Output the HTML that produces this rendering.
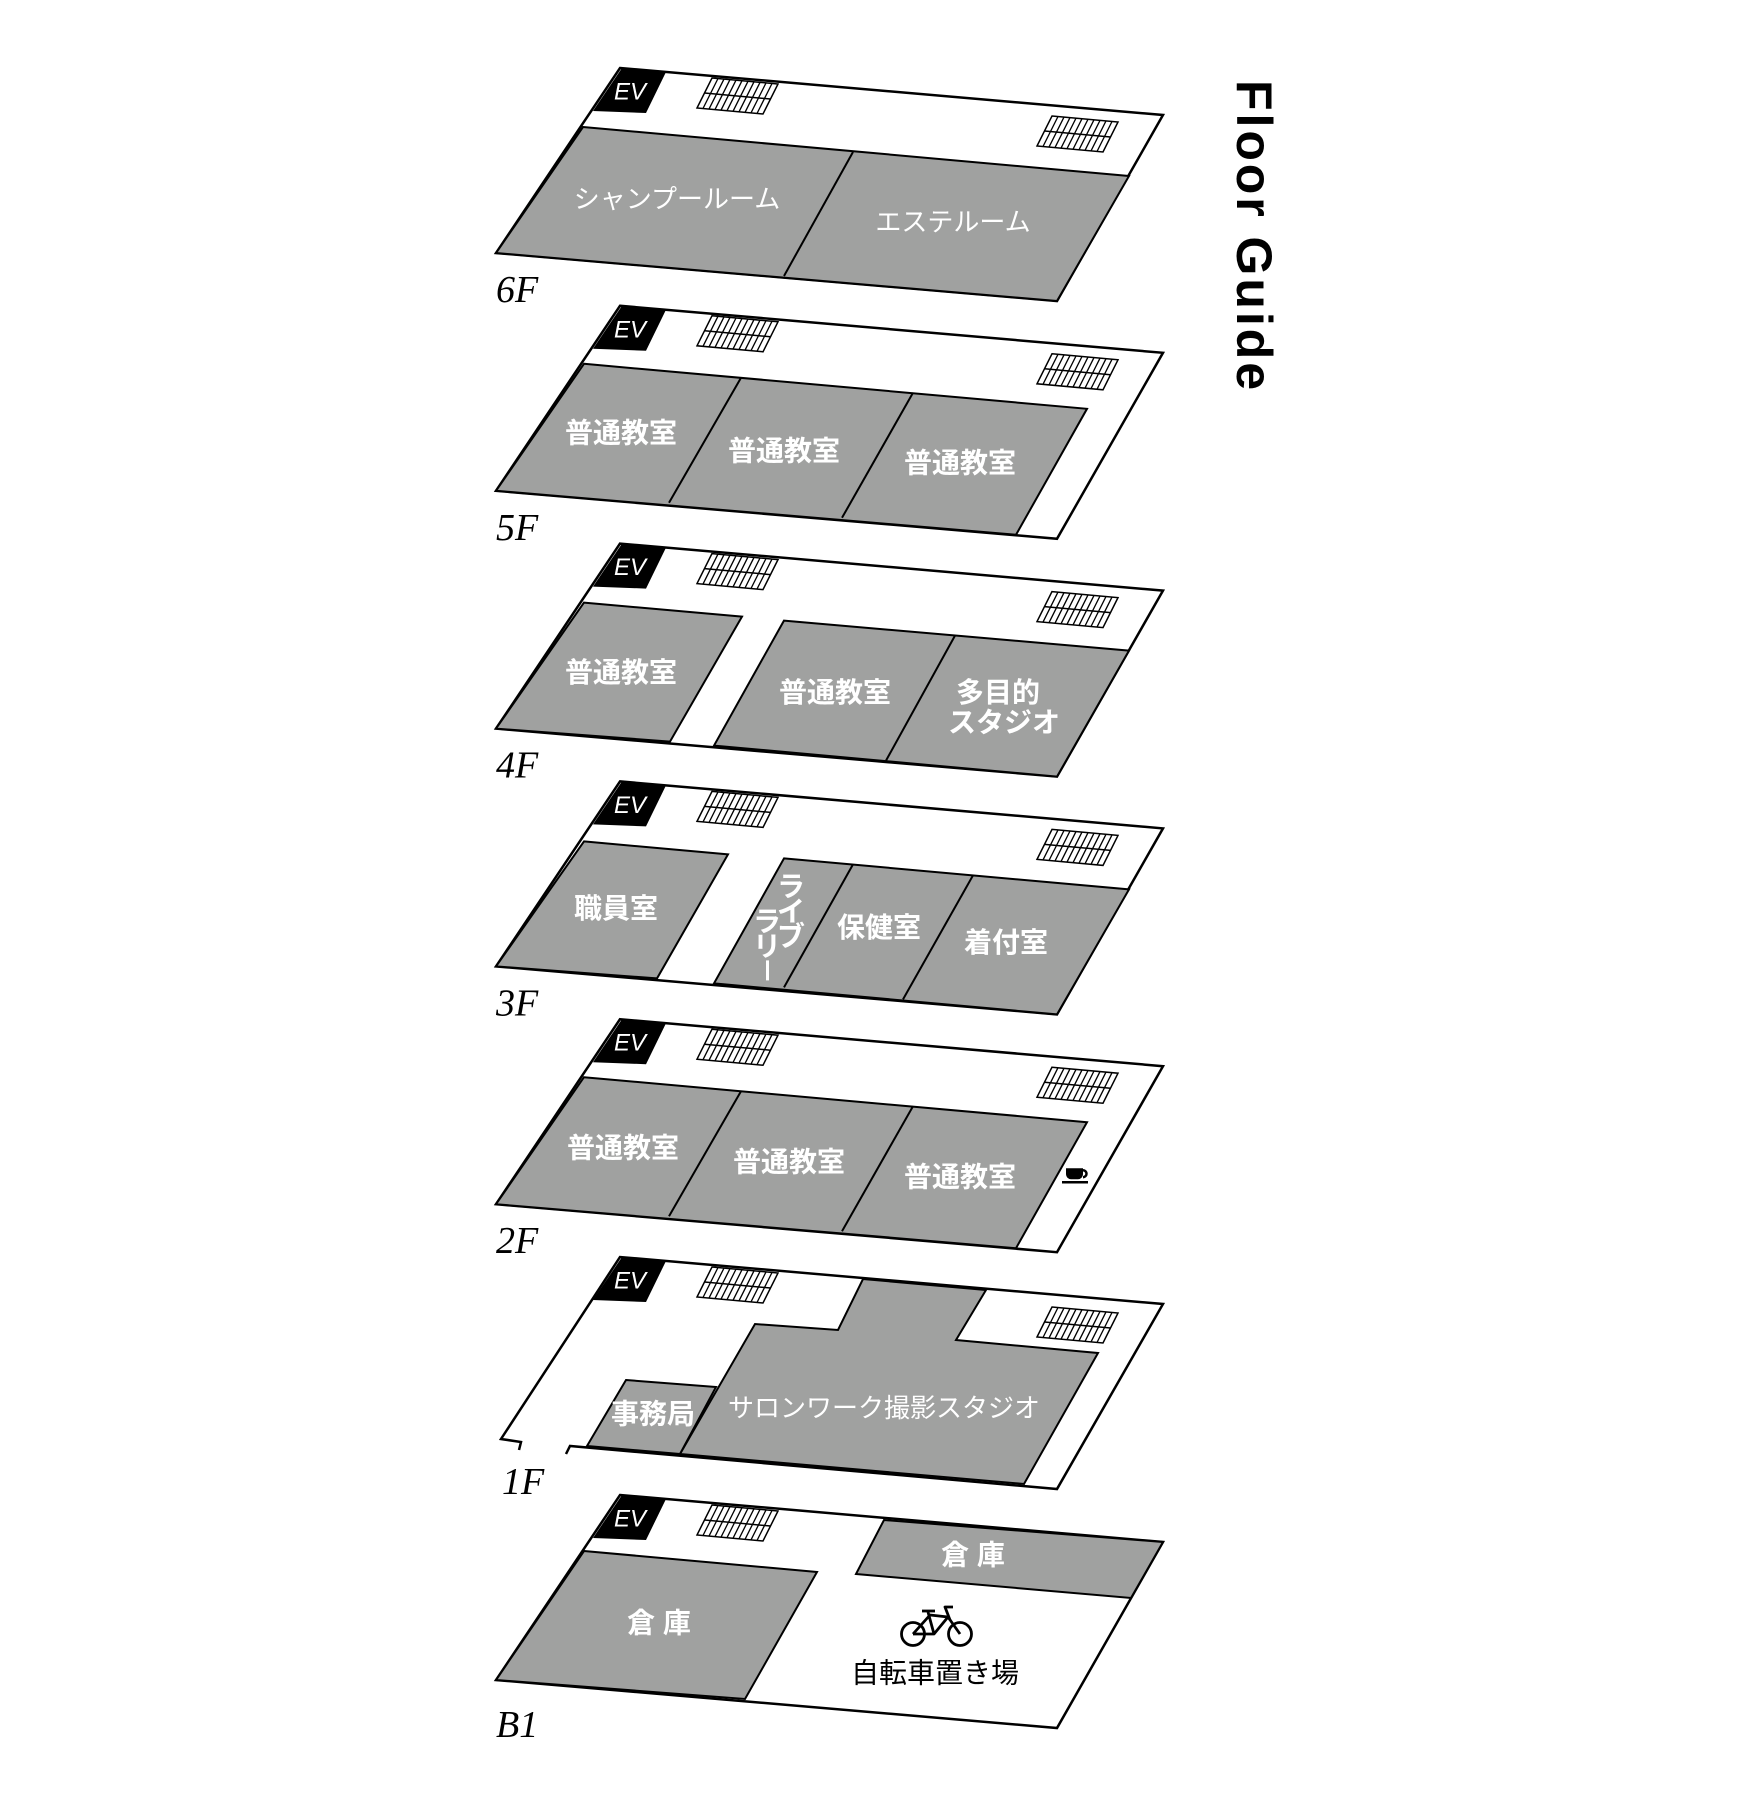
<!DOCTYPE html>
<html><head><meta charset="utf-8"><style>
html,body{margin:0;padding:0;background:#fff;}
svg{display:block;}
.o{fill:#fff;stroke:#000;stroke-width:2.5;stroke-linejoin:miter;}
.g{fill:#a0a1a0;stroke:#000;stroke-width:2;stroke-linejoin:miter;}
.d{stroke:#000;stroke-width:2;fill:none;}
.t{fill:#fff;font-family:"Liberation Sans","Noto Sans CJK JP",sans-serif;font-weight:bold;font-size:28px;text-anchor:middle;dominant-baseline:central;}
.tl{fill:#fff;font-family:"Liberation Sans","Noto Sans CJK JP",sans-serif;font-weight:normal;font-size:26px;text-anchor:middle;dominant-baseline:central;}
.fl{font-family:"Liberation Serif",serif;font-style:italic;font-size:38px;fill:#000;}
.ev{fill:#fff;font-family:"Liberation Sans",sans-serif;font-style:italic;font-size:24px;text-anchor:middle;dominant-baseline:central;}
</style></head><body>
<svg width="1754" height="1794" viewBox="0 0 1754 1794" xmlns="http://www.w3.org/2000/svg">
<defs>
<g id="st">
  <polygon points="0,0 66,6 51,36 -15,30" fill="#fff" stroke="#000" stroke-width="1.5"/>
  <line x1="-7.5" y1="15" x2="58.5" y2="21" stroke="#000" stroke-width="1.5"/>
  <g stroke="#000" stroke-width="1.3">
    <line x1="6" y1="0.5" x2="-9" y2="30.5"/><line x1="12" y1="1.1" x2="-3" y2="31.1"/>
    <line x1="18" y1="1.6" x2="3" y2="31.6"/><line x1="24" y1="2.2" x2="9" y2="32.2"/>
    <line x1="30" y1="2.7" x2="15" y2="32.7"/><line x1="36" y1="3.3" x2="21" y2="33.3"/>
    <line x1="42" y1="3.8" x2="27" y2="33.8"/><line x1="48" y1="4.4" x2="33" y2="34.4"/>
    <line x1="54" y1="4.9" x2="39" y2="34.9"/><line x1="60" y1="5.5" x2="45" y2="35.5"/>
  </g>
</g>
<g id="ev">
  <polygon points="622,68 666,72 646,113 593,111" fill="#000"/>
  <text x="630" y="92" class="ev">EV</text>
</g>
</defs>

<!-- 6F -->
<g transform="translate(0,0)">
  <polygon class="o" points="620,68 1163,115 1057,301 496,253"/>
  <polygon class="g" points="583,127 1129,176 1057,301 496,253"/>
  <line class="d" x1="853" y1="152" x2="784" y2="276"/>
  <use href="#ev"/>
  <use href="#st" x="712" y="78"/>
  <use href="#st" x="1052" y="116"/>
  <text class="tl" x="677" y="199">シャンプールーム</text>
  <text class="tl" x="953" y="222">エステルーム</text>
  <text class="fl" x="496" y="302">6F</text>
</g>

<!-- 5F -->
<g transform="translate(0,237.8)">
  <polygon class="o" points="620,68 1163,115 1057,301 496,253"/>
  <polygon class="g" points="584,126 1087,171 1016,297 496,253"/>
  <line class="d" x1="741" y1="140" x2="669" y2="265"/>
  <line class="d" x1="913" y1="155" x2="842" y2="280"/>
  <use href="#ev"/>
  <use href="#st" x="712" y="78"/>
  <use href="#st" x="1052" y="116"/>
  <text class="t" x="621" y="195">普通教室</text>
  <text class="t" x="784" y="213">普通教室</text>
  <text class="t" x="960" y="225">普通教室</text>
  <text class="fl" x="496" y="302">5F</text>
</g>

<!-- 4F -->
<g transform="translate(0,475.6)">
  <polygon class="o" points="620,68 1163,115 1057,301 496,253"/>
  <polygon class="g" points="584,127 742,141 670,266 496,253"/>
  <polygon class="g" points="784,145 1129,175 1057,301 714,270"/>
  <line class="d" x1="955" y1="160" x2="886" y2="285"/>
  <use href="#ev"/>
  <use href="#st" x="712" y="78"/>
  <use href="#st" x="1052" y="116"/>
  <text class="t" x="621" y="197">普通教室</text>
  <text class="t" x="835" y="217">普通教室</text>
  <text class="t" x="998" y="217">多目的</text>
  <text class="t" x="1004" y="247">スタジオ</text>
  <text class="fl" x="496" y="302">4F</text>
</g>

<!-- 3F -->
<g transform="translate(0,713.4)">
  <polygon class="o" points="620,68 1163,115 1057,301 496,253"/>
  <polygon class="g" points="584,128 728,141 657,265 496,253"/>
  <polygon class="g" points="784,145 1129,176 1057,301 714,270"/>
  <line class="d" x1="853" y1="151" x2="784" y2="274"/>
  <line class="d" x1="973" y1="162" x2="903" y2="286"/>
  <use href="#ev"/>
  <use href="#st" x="712" y="78"/>
  <use href="#st" x="1052" y="116"/>
  <text class="t" x="616" y="195">職員室</text>
  <text class="t" x="879" y="214">保健室</text>
  <text class="t" x="1006" y="229">着付室</text>
  <text class="t" x="791" y="173" font-size="23">ラ</text>
  <text class="t" x="791" y="198" font-size="23">イ</text>
  <text class="t" x="791" y="223" font-size="23">ブ</text>
  <text class="t" x="767" y="208" font-size="23">ラ</text>
  <text class="t" x="767" y="233" font-size="23">リ</text>
  <rect x="766" y="247" width="3" height="20" fill="#fff"/>
  <text class="fl" x="496" y="302">3F</text>
</g>

<!-- 2F -->
<g transform="translate(0,951.2)">
  <polygon class="o" points="620,68 1163,115 1057,301 496,253"/>
  <polygon class="g" points="584,126 1087,171 1016,297 496,253"/>
  <line class="d" x1="741" y1="140" x2="669" y2="265"/>
  <line class="d" x1="913" y1="155" x2="842" y2="280"/>
  <use href="#ev"/>
  <use href="#st" x="712" y="78"/>
  <use href="#st" x="1052" y="116"/>
  <text class="t" x="623" y="197">普通教室</text>
  <text class="t" x="789" y="211">普通教室</text>
  <text class="t" x="960" y="226">普通教室</text>
  <path d="M1066,217 h17 v6 a5,5 0 0 1 -5,5 h-7 a5,5 0 0 1 -5,-5 z" fill="#000"/>
  <path d="M1083,219 a3.5,3.5 0 0 1 0,7" fill="none" stroke="#000" stroke-width="2.5"/>
  <line x1="1062" y1="231" x2="1088" y2="231" stroke="#000" stroke-width="2.5"/>
  <text class="fl" x="496" y="302">2F</text>
</g>

<!-- 1F -->
<g transform="translate(0,1189)">
  <polygon fill="#fff" points="620,68 1163,115 1057,300 570,257 498,250"/>
  <polyline fill="none" stroke="#000" stroke-width="2.5" points="519,261 521,253 501,250 620,68 1163,115 1057,300 570,257 566,265"/>
  <polygon class="g" points="863,90 986,101 956,151 1098,164 1024,295 680,265 755,135 838,141"/>
  <polygon class="g" points="626,191 716,198 680,265 587,257"/>
  <use href="#ev"/>
  <use href="#st" x="712" y="78"/>
  <use href="#st" x="1052" y="118"/>
  <text class="t" x="653" y="225">事務局</text>
  <text class="tl" x="884" y="219" font-size="24">サロンワーク撮影スタジオ</text>
  <text class="fl" x="502" y="305">1F</text>
</g>

<!-- B1 -->
<g transform="translate(0,1427)">
  <polygon class="o" points="620,68 1163,115 1057,301 496,253"/>
  <polygon class="g" points="584,124 817,145 745,272 496,253"/>
  <polygon class="g" points="884,93 1163,115 1131,171 856,147"/>
  <use href="#ev"/>
  <use href="#st" x="712" y="78"/>
  <text class="t" x="973" y="128">倉 庫</text>
  <text class="t" x="659" y="196">倉 庫</text>
  <g fill="none" stroke="#000" stroke-width="2.8" stroke-linejoin="round">
    <circle cx="913" cy="207" r="11.5"/>
    <circle cx="960" cy="207" r="11.5"/>
    <polyline points="913,207 930,188 948,190 960,207"/>
    <polyline points="913,207 934,207 948,190"/>
    <line x1="934" y1="207" x2="928" y2="185"/>
    <line x1="922" y1="184" x2="935" y2="184"/>
    <polyline points="950,193 945,180 953,180"/>
  </g>
  <text x="935" y="246" font-family="Liberation Sans,'Noto Sans CJK JP',sans-serif" font-size="28" fill="#000" text-anchor="middle" dominant-baseline="central">自転車置き場</text>
  <text class="fl" x="496" y="310">B1</text>
</g>

<text transform="translate(1237,80) rotate(90)" font-family="Liberation Sans,sans-serif" font-size="50" font-weight="bold" fill="#000" textLength="310" lengthAdjust="spacing" x="0" y="0">Floor Guide</text>
</svg>
</body></html>
